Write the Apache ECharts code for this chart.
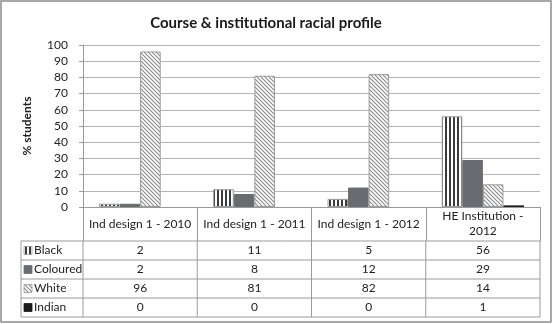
<!DOCTYPE html>
<html>
<head>
<meta charset="utf-8">
<script src="https://cdn.jsdelivr.net/npm/echarts@6/dist/echarts.min.js"></script>
<style>
  html, body { margin: 0; padding: 0; background: #fff; }
  #main { width: 553px; height: 324px; }
</style>
</head>
<body>
<div id="main"></div>
<script>
var categories = ['Ind design 1 - 2010', 'Ind design 1 - 2011', 'Ind design 1 - 2012', 'HE Institution -\n2012'];
var seriesNames = ['Black', 'Coloured', 'White', 'Indian'];
var black = [2, 11, 5, 56];
var coloured = [2, 8, 12, 29];
var white = [96, 81, 82, 14];
var indian = [0, 0, 0, 1];
var yTicks = [0, 10, 20, 30, 40, 50, 60, 70, 80, 90, 100];

var FONT = 'Lato, "Open Sans", sans-serif';

// pattern fills
function stripes() {
  var c = document.createElement('canvas');
  c.width = 4; c.height = 4;
  var g = c.getContext('2d');
  g.fillStyle = '#ffffff'; g.fillRect(0, 0, 4, 4);
  g.fillStyle = '#3c3c3c'; g.fillRect(1, 0, 2, 4);
  return c;
}
function hatch() {
  var c = document.createElement('canvas');
  c.width = 4; c.height = 4;
  var g = c.getContext('2d');
  g.fillStyle = '#ffffff'; g.fillRect(0, 0, 4, 4);
  g.strokeStyle = '#8a8a8a'; g.lineWidth = 1.1;
  g.beginPath();
  g.moveTo(-1, -1); g.lineTo(5, 5);
  g.moveTo(-1, 3); g.lineTo(1, 5);
  g.moveTo(3, -1); g.lineTo(5, 1);
  g.stroke();
  return c;
}
var fills = [
  { image: stripes(), repeat: 'repeat' },
  '#686c70',
  { image: hatch(), repeat: 'repeat' },
  '#1a1a1a'
];
var borders = ['#9a9a9a', '#686c70', '#9a9a9a', '#1a1a1a'];
var borderWidths = [1, 1, 1, 0];
var values = [black, coloured, white, indian];

var gridLeft = 83, gridRight = 540, gridTop = 45, gridBottom = 207;
var colW = (gridRight - gridLeft) / categories.length;
var rowTop = 241, rowH = 19, legendLeft = 21;

var chart = echarts.init(document.getElementById('main'));

var graphics = [];
// outer border
graphics.push({
  type: 'rect', shape: { x: 1, y: 1, width: 550, height: 321 },
  style: { fill: null, stroke: '#8c8c8c', lineWidth: 1.5 }, silent: true
});
// table horizontal lines
for (var r = 0; r <= seriesNames.length; r++) {
  var yy = rowTop + r * rowH;
  graphics.push({
    type: 'line', shape: { x1: legendLeft, y1: yy, x2: gridRight, y2: yy },
    style: { stroke: '#9a9a9a', lineWidth: 1 }
  });
}
// table vertical lines
var xs = [legendLeft];
for (var k = 0; k <= categories.length; k++) xs.push(gridLeft + k * colW);
xs.forEach(function (x) {
  graphics.push({
    type: 'line', shape: { x1: x, y1: rowTop, x2: x, y2: rowTop + seriesNames.length * rowH },
    style: { stroke: '#9a9a9a', lineWidth: 1 }
  });
});
// table legend keys and values
seriesNames.forEach(function (name, i) {
  var cy = rowTop + i * rowH + rowH / 2;
  graphics.push({
    type: 'rect', shape: { x: 24, y: cy - 4, width: 8, height: 8 },
    style: { fill: fills[i], stroke: borders[i], lineWidth: 0.8 }
  });
  graphics.push({
    type: 'text', x: 34, y: cy,
    style: { text: name, font: '12px ' + FONT, fill: '#222', verticalAlign: 'middle', align: 'left' }
  });
  values[i].forEach(function (v, j) {
    graphics.push({
      type: 'text', x: gridLeft + (j + 0.5) * colW, y: cy,
      style: { text: String(v), font: '12px ' + FONT, fill: '#222', verticalAlign: 'middle', align: 'center' }
    });
  });
});

var option = {
  animation: false,
  title: {
    text: 'Course & institutional racial profile',
    left: 261,
    top: 11,
    textAlign: 'center',
    textStyle: { fontFamily: FONT, fontSize: 15, fontWeight: 'bold', color: '#1a1a1a' }
  },
  grid: {
    left: gridLeft, right: 553 - gridRight, top: gridTop, bottom: 324 - gridBottom,
    containLabel: false
  },
  xAxis: {
    type: 'category',
    data: categories,
    axisLine: { lineStyle: { color: '#9a9a9a', width: 1 } },
    axisTick: { show: true, interval: 0, alignWithLabel: false, length: rowTop - gridBottom, lineStyle: { color: '#9a9a9a' } },
    axisLabel: {
      interval: 0, margin: 17, verticalAlign: 'middle', lineHeight: 15,
      fontFamily: FONT, fontSize: 12, color: '#222'
    }
  },
  yAxis: {
    type: 'value',
    min: yTicks[0],
    max: yTicks[yTicks.length - 1],
    interval: 10,
    name: '% students',
    nameLocation: 'middle',
    nameGap: 50,
    nameTextStyle: { fontFamily: FONT, fontSize: 12, fontWeight: 'bold', color: '#222' },
    axisLine: { show: true, lineStyle: { color: '#9a9a9a' } },
    axisTick: { show: true, length: 4, lineStyle: { color: '#9a9a9a' } },
    axisLabel: { margin: 15, fontFamily: FONT, fontSize: 12, color: '#222' },
    splitLine: { lineStyle: { color: '#b4b4b4', width: 1 } }
  },
  series: seriesNames.map(function (name, i) {
    return {
      name: name,
      type: 'bar',
      data: values[i],
      barGap: '0%',
      barCategoryGap: '28%',
      itemStyle: { color: fills[i], borderColor: borders[i], borderWidth: borderWidths[i] }
    };
  }),
  graphic: graphics
};

chart.setOption(option);
</script>
</body>
</html>
